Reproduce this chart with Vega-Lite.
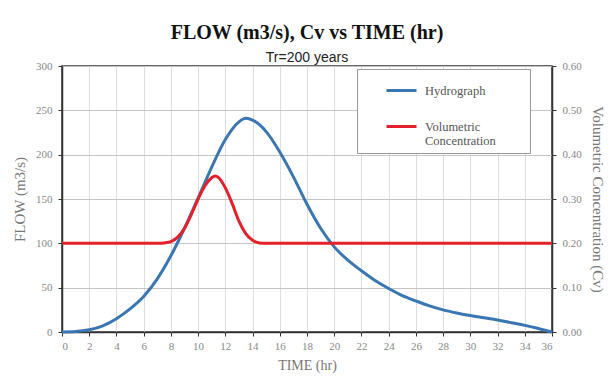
{
  "$schema": "https://vega.github.io/schema/vega-lite/v6.json",
  "width": 490,
  "height": 266,
  "autosize": "none",
  "padding": {"left": 62, "top": 66, "right": 61, "bottom": 56},
  "background": "white",
  "title": {
    "text": "FLOW (m3/s), Cv vs TIME (hr)",
    "subtitle": "Tr=200 years",
    "font": "Liberation Serif",
    "fontSize": 20,
    "fontWeight": "bold",
    "color": "#111111",
    "subtitleFont": "Liberation Sans",
    "subtitleFontSize": 14,
    "subtitleColor": "#222222",
    "anchor": "middle",
    "offset": -5,
    "subtitlePadding": 8
  },
  "data": {
    "values": [
      {"series": "Hydrograph", "t": 0, "v": 0},
      {"series": "Hydrograph", "t": 1, "v": 0.5},
      {"series": "Hydrograph", "t": 2, "v": 2.5},
      {"series": "Hydrograph", "t": 3, "v": 7},
      {"series": "Hydrograph", "t": 4, "v": 15},
      {"series": "Hydrograph", "t": 5, "v": 26},
      {"series": "Hydrograph", "t": 6, "v": 40},
      {"series": "Hydrograph", "t": 7, "v": 60},
      {"series": "Hydrograph", "t": 8, "v": 86},
      {"series": "Hydrograph", "t": 9, "v": 117},
      {"series": "Hydrograph", "t": 10, "v": 151},
      {"series": "Hydrograph", "t": 11, "v": 186},
      {"series": "Hydrograph", "t": 12, "v": 217},
      {"series": "Hydrograph", "t": 13, "v": 237},
      {"series": "Hydrograph", "t": 13.5, "v": 241},
      {"series": "Hydrograph", "t": 14, "v": 239},
      {"series": "Hydrograph", "t": 15, "v": 226},
      {"series": "Hydrograph", "t": 16, "v": 203},
      {"series": "Hydrograph", "t": 17, "v": 175},
      {"series": "Hydrograph", "t": 18, "v": 144},
      {"series": "Hydrograph", "t": 19, "v": 117},
      {"series": "Hydrograph", "t": 20, "v": 96},
      {"series": "Hydrograph", "t": 21, "v": 81},
      {"series": "Hydrograph", "t": 22, "v": 69},
      {"series": "Hydrograph", "t": 23, "v": 58},
      {"series": "Hydrograph", "t": 24, "v": 49},
      {"series": "Hydrograph", "t": 25, "v": 41},
      {"series": "Hydrograph", "t": 26, "v": 35},
      {"series": "Hydrograph", "t": 27, "v": 29.5},
      {"series": "Hydrograph", "t": 28, "v": 25},
      {"series": "Hydrograph", "t": 29, "v": 21.5},
      {"series": "Hydrograph", "t": 30, "v": 18.5},
      {"series": "Hydrograph", "t": 31, "v": 16},
      {"series": "Hydrograph", "t": 32, "v": 13.5},
      {"series": "Hydrograph", "t": 33, "v": 10.5},
      {"series": "Hydrograph", "t": 34, "v": 7.5},
      {"series": "Hydrograph", "t": 35, "v": 4},
      {"series": "Hydrograph", "t": 36, "v": 0},
      {"series": "Volumetric Concentration", "t": 0, "v": 0.2},
      {"series": "Volumetric Concentration", "t": 7, "v": 0.2},
      {"series": "Volumetric Concentration", "t": 7.5, "v": 0.201},
      {"series": "Volumetric Concentration", "t": 8, "v": 0.204},
      {"series": "Volumetric Concentration", "t": 8.5, "v": 0.214},
      {"series": "Volumetric Concentration", "t": 9, "v": 0.234},
      {"series": "Volumetric Concentration", "t": 9.5, "v": 0.265},
      {"series": "Volumetric Concentration", "t": 10, "v": 0.3},
      {"series": "Volumetric Concentration", "t": 10.5, "v": 0.33},
      {"series": "Volumetric Concentration", "t": 11, "v": 0.348},
      {"series": "Volumetric Concentration", "t": 11.25, "v": 0.352},
      {"series": "Volumetric Concentration", "t": 11.5, "v": 0.348},
      {"series": "Volumetric Concentration", "t": 12, "v": 0.325},
      {"series": "Volumetric Concentration", "t": 12.5, "v": 0.29},
      {"series": "Volumetric Concentration", "t": 13, "v": 0.25},
      {"series": "Volumetric Concentration", "t": 13.5, "v": 0.222},
      {"series": "Volumetric Concentration", "t": 14, "v": 0.207},
      {"series": "Volumetric Concentration", "t": 14.5, "v": 0.201},
      {"series": "Volumetric Concentration", "t": 15, "v": 0.2},
      {"series": "Volumetric Concentration", "t": 36, "v": 0.2}
    ]
  },
  "encoding": {
    "x": {
      "field": "t",
      "type": "quantitative",
      "scale": {"domain": [0, 36], "nice": false},
      "axis": {
        "title": "TIME (hr)",
        "values": [0, 2, 4, 6, 8, 10, 12, 14, 16, 18, 20, 22, 24, 26, 28, 30, 32, 34, 36],
        "grid": true,
        "gridColor": "#dddddd",
        "domainColor": "#333333",
        "domainWidth": 1.5,
        "tickColor": "#333333",
        "tickSize": 4,
        "labelFont": "Liberation Serif",
        "labelFontSize": 11,
        "labelColor": "#888888",
        "labelPadding": 4,
        "titleFont": "Liberation Serif",
        "titleFontSize": 14,
        "titleFontWeight": "normal",
        "titleColor": "#777777",
        "titlePadding": 7
      }
    },
    "color": {
      "field": "series",
      "type": "nominal",
      "scale": {"domain": ["Hydrograph", "Volumetric Concentration"], "range": ["#3A76B2", "#E4202A"]},
      "legend": {
        "orient": "none",
        "legendX": 295,
        "legendY": 3,
        "title": ".",
        "titleOrient": "right",
        "titleColor": "white",
        "titleFontSize": 2,
        "titlePadding": 28,
        "fillColor": "white",
        "strokeColor": "#999999",
        "padding": 5,
        "symbolType": "stroke",
        "symbolStrokeWidth": 3,
        "symbolSize": 900,
        "symbolOffset": 23,
        "labelFont": "Liberation Serif",
        "labelFontSize": 12.5,
        "labelColor": "#555555",
        "labelOffset": 7,
        "rowPadding": 13,
        "labelExpr": "datum.label == 'Volumetric Concentration' ? ['Volumetric', 'Concentration'] : datum.label"
      }
    }
  },
  "layer": [
    {
      "transform": [{"filter": "datum.series == 'Hydrograph'"}],
      "mark": {"type": "line", "interpolate": "monotone", "strokeWidth": 3},
      "encoding": {
        "y": {
          "field": "v",
          "type": "quantitative",
          "scale": {"domain": [0, 300], "nice": false},
          "axis": {
            "title": "FLOW (m3/s)",
            "values": [0, 50, 100, 150, 200, 250, 300],
            "grid": true,
            "gridColor": "#c4c4c4",
            "domainColor": "#333333",
            "domainWidth": 1.5,
            "tickColor": "#333333",
            "tickSize": 4,
            "labelFont": "Liberation Serif",
            "labelFontSize": 11,
            "labelColor": "#888888",
            "labelPadding": 6,
            "titleFont": "Liberation Serif",
            "titleFontSize": 15,
            "titleFontWeight": "normal",
            "titleColor": "#777777",
            "titlePadding": 8
          }
        }
      }
    },
    {
      "transform": [{"filter": "datum.series == 'Volumetric Concentration'"}],
      "mark": {"type": "line", "interpolate": "monotone", "strokeWidth": 3},
      "encoding": {
        "y": {
          "field": "v",
          "type": "quantitative",
          "scale": {"domain": [0, 0.6], "nice": false},
          "axis": {
            "orient": "right",
            "title": "Volumetric Concentration (Cv)",
            "values": [0, 0.1, 0.2, 0.3, 0.4, 0.5, 0.6],
            "format": ".2f",
            "grid": false,
            "domainColor": "#333333",
            "domainWidth": 1.5,
            "tickColor": "#333333",
            "tickSize": 4,
            "labelFont": "Liberation Serif",
            "labelFontSize": 11,
            "labelColor": "#888888",
            "labelPadding": 6,
            "titleFont": "Liberation Serif",
            "titleFontSize": 15,
            "titleFontWeight": "normal",
            "titleColor": "#777777",
            "titlePadding": 8
          }
        }
      }
    }
  ],
  "resolve": {"scale": {"y": "independent"}},
  "config": {
    "view": {"stroke": "#333333", "strokeWidth": 1.5}
  }
}
